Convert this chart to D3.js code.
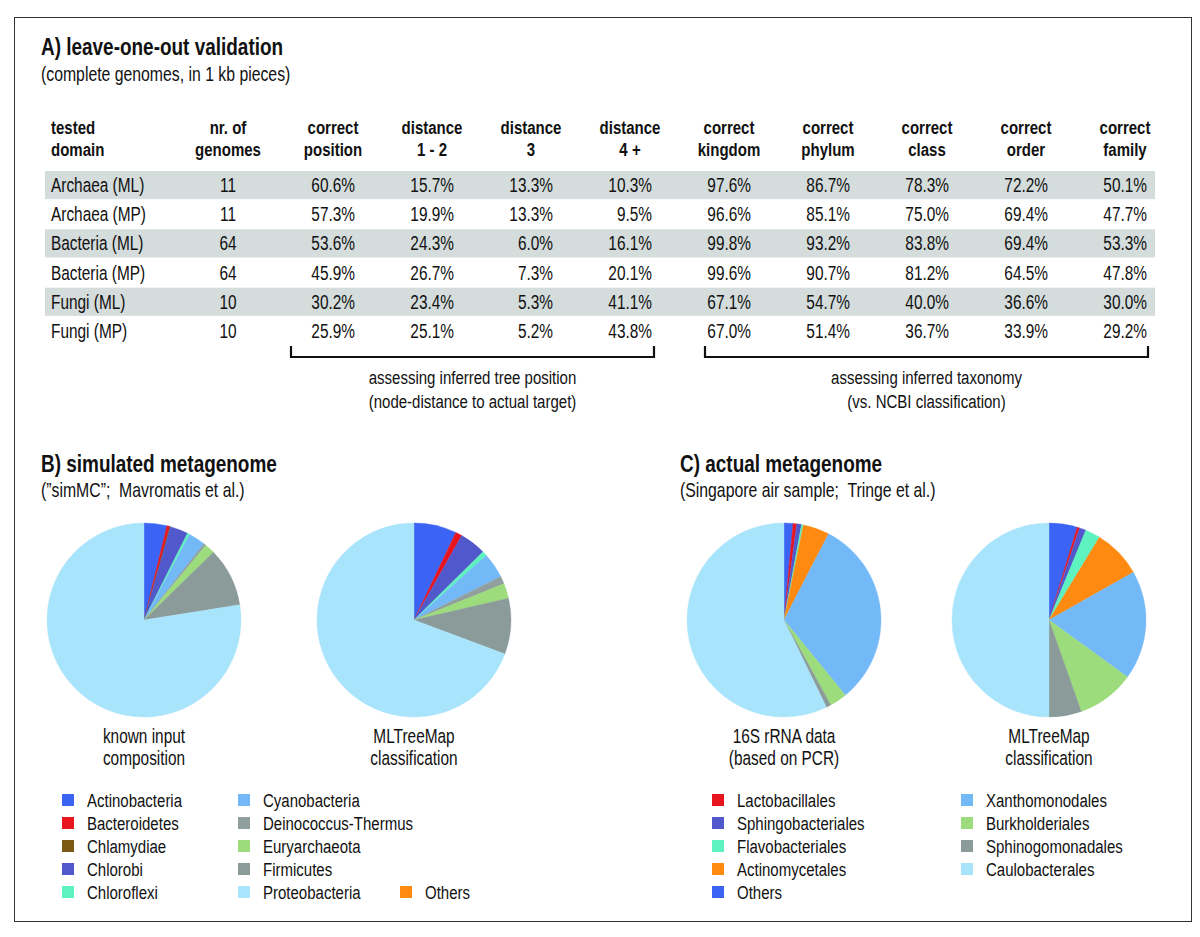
<!DOCTYPE html>
<html lang='en'>
<head>
  <meta charset='UTF-8'>
  <title>MLTreeMap validation</title>
  <style>
  body {
    margin: 0;
    background: #fff;
  }
  svg text {
    font-family: 'Liberation Sans', Arial, sans-serif;
    fill: #111;
    white-space: pre;
  }
  .title { font-size: 24px; font-weight: bold; }
  .subtitle { font-size: 20px; }
  .head { font-size: 19px; font-weight: bold; }
  .cell { font-size: 19.5px; }
  .note { font-size: 19px; }
  .pielabel { font-size: 19.5px; }
  .legend text { font-size: 19px; }
  </style>
  <script src="https://d3js.org/d3.v7.min.js"></script>
</head>
<body>
  <script>

  // ---- table data (panel A)
  var headers = [['tested', 'domain'], ['nr. of', 'genomes'], ['correct', 'position'], ['distance', '1 - 2'],
                 ['distance', '3'], ['distance', '4 +'], ['correct', 'kingdom'], ['correct', 'phylum'],
                 ['correct', 'class'], ['correct', 'order'], ['correct', 'family']];
  var domains = ['Archaea (ML)', 'Archaea (MP)', 'Bacteria (ML)', 'Bacteria (MP)', 'Fungi (ML)', 'Fungi (MP)'];
  var genomes = [11, 11, 64, 64, 10, 10];
  var correctPosition = [60.6, 57.3, 53.6, 45.9, 30.2, 25.9];
  var distance12 = [15.7, 19.9, 24.3, 26.7, 23.4, 25.1];
  var distance3 = [13.3, 13.3, 6.0, 7.3, 5.3, 5.2];
  var distance4 = [10.3, 9.5, 16.1, 20.1, 41.1, 43.8];
  var correctKingdom = [97.6, 96.6, 99.8, 99.6, 67.1, 67.0];
  var correctPhylum = [86.7, 85.1, 93.2, 90.7, 54.7, 51.4];
  var correctClass = [78.3, 75.0, 83.8, 81.2, 40.0, 36.7];
  var correctOrder = [72.2, 69.4, 69.4, 64.5, 36.6, 33.9];
  var correctFamily = [50.1, 47.7, 53.3, 47.8, 30.0, 29.2];

  // ---- panel B: phyla
  var phyla = ['Actinobacteria', 'Bacteroidetes', 'Chlamydiae', 'Chlorobi', 'Chloroflexi', 'Cyanobacteria',
               'Deinococcus-Thermus', 'Euryarchaeota', 'Firmicutes', 'Proteobacteria', 'Others'];
  var phylaColors = ['#3b64f4', '#e8141e', '#7a5a14', '#5058cc', '#5ef2c0', '#74b9f7',
                     '#909e9e', '#9cdc7c', '#8b9b9a', '#a8e4fb', '#ff8a12'];
  var knownInput = [3.8, 0.5, 0.1, 3.0, 0.4, 2.8, 0.4, 1.7, 9.8, 77.5, 0];
  var simClassified = [7.1, 1.1, 0, 4.4, 0.8, 4.2, 1.3, 2.5, 9.3, 69.3, 0];

  // ---- panel C: orders
  var orders = ['Others', 'Lactobacillales', 'Sphingobacteriales', 'Flavobacteriales', 'Actinomycetales',
                'Xanthomonodales', 'Burkholderiales', 'Sphinogomonadales', 'Caulobacterales'];
  var orderColors = ['#3b64f4', '#e8141e', '#5058cc', '#5ef2c0', '#ff8a12',
                     '#74b9f7', '#9cdc7c', '#8b9b9a', '#a8e4fb'];
  var rrnaData = [1.5, 0.6, 0.8, 0.3, 4.4, 31.5, 2.9, 0.8, 57.2];
  var airClassified = [4.7, 0.4, 1.1, 2.5, 8.1, 18.2, 9.6, 5.4, 50.0];
  var orderLegend = [['Lactobacillales', 'Sphingobacteriales', 'Flavobacteriales', 'Actinomycetales', 'Others'],
                     ['Xanthomonodales', 'Burkholderiales', 'Sphinogomonadales', 'Caulobacterales']];
  var phylaLegend = [['Actinobacteria', 'Bacteroidetes', 'Chlamydiae', 'Chlorobi', 'Chloroflexi'],
                     ['Cyanobacteria', 'Deinococcus-Thermus', 'Euryarchaeota', 'Firmicutes', 'Proteobacteria'],
                     [null, null, null, null, 'Others']];

  var svg = d3.select('body').append('svg').attr('width', 1200).attr('height', 937);

  // no narrow font installed: squeeze the regular one horizontally
  var SQ = 0.79;
  function at(x, y) { return 'translate(' + x + ',' + y + ') scale(' + SQ + ',1)'; }
  function label(parent, cls, x, y, t, anchor) {
    return parent.append('text').attr('class', cls)
                 .attr('transform', at(x, y))
                 .attr('text-anchor', anchor || 'start')
                 .text(t);
  }

  // frame
  svg.append('rect')
     .attr('x', 14.5).attr('y', 17.5).attr('width', 1177).attr('height', 904)
     .attr('fill', 'none').attr('stroke', '#333').attr('stroke-width', 1);

  // ---- A) table
  label(svg, 'title', 41, 55, 'A) leave-one-out validation');
  label(svg, 'subtitle', 41, 81, '(complete genomes, in 1 kb pieces)');

  var pctCols = [correctPosition, distance12, distance3, distance4, correctKingdom,
                 correctPhylum, correctClass, correctOrder, correctFamily];
  var colX = d3.scalePoint().domain(d3.range(pctCols.length)).range([333, 1125]);
  var genomesX = 228;
  var rowY = d3.scaleBand().domain(d3.range(domains.length)).range([171, 345]).paddingInner(0.035);

  var tbl = svg.append('g');

  // grey bands on every other row
  tbl.selectAll('.band')
     .data(d3.range(domains.length).filter(function (i) { return i % 2 === 0; }))
     .enter()
     .append('rect')
     .attr('class', 'band')
     .attr('x', 45).attr('width', 1110)
     .attr('y', function (i) { return rowY(i); })
     .attr('height', rowY.bandwidth())
     .attr('fill', '#d4dcdc');

  // headers (two lines each)
  var headX = function (i) { return i === 0 ? 51 : (i === 1 ? genomesX : colX(i - 2)); };
  headers.forEach(function (lines, i) {
    lines.forEach(function (t, j) {
      label(tbl, 'head', headX(i), 134 + j * 22, t, i === 0 ? 'start' : 'middle');
    });
  });

  // row labels and values
  var rowBase = function (i) { return rowY(i) + rowY.bandwidth() / 2 + 7; };
  domains.forEach(function (d, i) { label(tbl, 'cell', 51, rowBase(i), d); });
  genomes.forEach(function (d, i) { label(tbl, 'cell', genomesX, rowBase(i), String(d), 'middle'); });

  pctCols.forEach(function (col, c) {
    col.forEach(function (d, i) {
      label(tbl, 'cell', colX(c) + 22, rowBase(i), d.toFixed(1) + '%', 'end');
    });
  });

  // brackets under the two column groups
  var groups = [
    { from: 0, to: 3, x0: -42, x1: 24, lines: ['assessing inferred tree position', '(node-distance to actual target)'] },
    { from: 4, to: 8, x0: -24, x1: 23, lines: ['assessing inferred taxonomy', '(vs. NCBI classification)'] }
  ];
  groups.forEach(function (g) {
    var a = colX(g.from) + g.x0;
    var b = colX(g.to) + g.x1;
    tbl.append('path')
       .attr('d', 'M' + a + ',346V357H' + b + 'V346')
       .attr('fill', 'none').attr('stroke', '#111').attr('stroke-width', 2.2);
    g.lines.forEach(function (t, j) {
      label(tbl, 'note', (a + b) / 2, 384 + j * 24, t, 'middle');
    });
  });

  // ---- pies
  var pie = d3.pie().sort(null).value(function (d) { return d.v; });
  var arc = d3.arc().innerRadius(0).outerRadius(97);

  function drawPie(cx, values, names, colors, lines) {
    var data = values.map(function (v, i) { return { v: v, name: names[i], color: colors[i] }; })
                     .filter(function (d) { return d.v > 0; });
    var g = svg.append('g').attr('transform', 'translate(' + cx + ',620)');
    g.selectAll('path')
     .data(pie(data))
     .enter()
     .append('path')
     .attr('d', arc)
     .attr('fill', function (d) { return d.data.color; })
     .attr('stroke', function (d) { return d.data.color; })
     .attr('stroke-width', 0.4);
    lines.forEach(function (t, j) {
      label(g, 'pielabel', 0, 123 + j * 22, t, 'middle');
    });
  }

  label(svg, 'title', 41, 472, 'B) simulated metagenome');
  label(svg, 'subtitle', 41, 497, '(\u201dsimMC\u201d;  Mavromatis et al.)');
  label(svg, 'title', 680, 472, 'C) actual metagenome');
  label(svg, 'subtitle', 680, 497, '(Singapore air sample;  Tringe et al.)');

  drawPie(144, knownInput, phyla, phylaColors, ['known input', 'composition']);
  drawPie(414, simClassified, phyla, phylaColors, ['MLTreeMap', 'classification']);
  drawPie(784, rrnaData, orders, orderColors, ['16S rRNA data', '(based on PCR)']);
  drawPie(1049, airClassified, orders, orderColors, ['MLTreeMap', 'classification']);

  // ---- legends
  function drawLegend(cols, colStarts, names, colors) {
    var colorOf = d3.scaleOrdinal().domain(names).range(colors);
    cols.forEach(function (items, c) {
      items.forEach(function (n, r) {
        if (!n) return;
        var lg = svg.append('g').attr('class', 'legend')
                    .attr('transform', 'translate(' + colStarts[c] + ',' + (800 + r * 23) + ')');
        lg.append('rect')
          .attr('x', 0).attr('y', -6).attr('width', 12).attr('height', 12)
          .attr('fill', colorOf(n));
        label(lg, '', 25, 7, n);
      });
    });
  }

  drawLegend(phylaLegend, [62, 238, 400], phyla, phylaColors);
  drawLegend(orderLegend, [712, 961], orders, orderColors);
  </script>
</body>
</html>
